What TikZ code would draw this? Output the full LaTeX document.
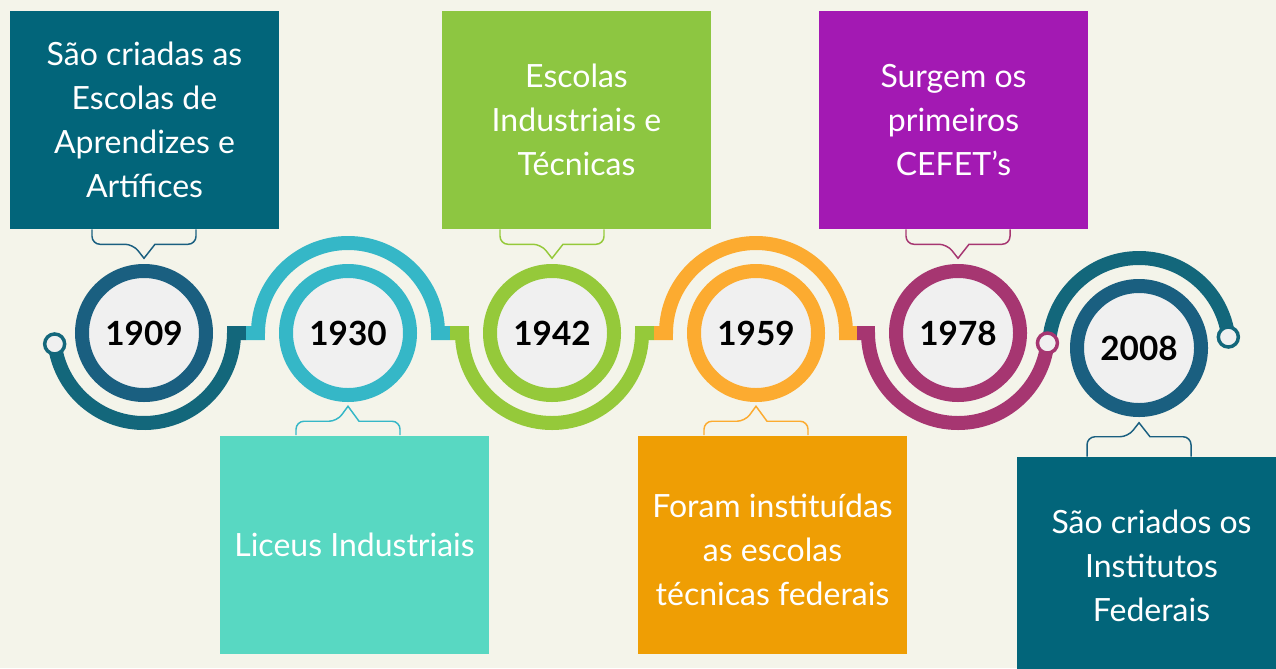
\documentclass[tikz,border=0pt]{standalone}
\usepackage{fontspec}
\setmainfont{Lato}
\usetikzlibrary{calc}

\definecolor{bgcream}{HTML}{F4F4EA}
\definecolor{diskgray}{HTML}{F0F0F0}
\definecolor{ring1909}{HTML}{1A5F80}
\definecolor{arc1909}{HTML}{13677B}
\definecolor{box1909}{HTML}{02657A}
\definecolor{ring1930}{HTML}{35B7C7}
\definecolor{box1930}{HTML}{58D8C2}
\definecolor{ring1942}{HTML}{95C93A}
\definecolor{box1942}{HTML}{8DC641}
\definecolor{ring1959}{HTML}{FCAB30}
\definecolor{box1959}{HTML}{EF9E04}
\definecolor{ring1978}{HTML}{A63671}
\definecolor{box1978}{HTML}{A319B3}
\definecolor{ring2008}{HTML}{1A5F80}
\definecolor{arc2008}{HTML}{13677B}
\definecolor{box2008}{HTML}{02657A}

\pgfdeclareradialshading{yeardisk}{\pgfpoint{-1bp}{1bp}}{%
  color(0bp)=(diskgray); color(39bp)=(diskgray); color(44.5bp)=(black!50); color(50bp)=(black!50)}

\tikzset{
  yearring/.style={circle, draw=#1, line width=10.5pt, minimum size=93pt, inner sep=0pt,
    shading=yeardisk, font=\bfseries\fontsize{25}{30}\selectfont},
  eventbox/.style={fill=#1, text=white, minimum width=201.75pt, minimum height=163.5pt,
    inner sep=0pt, align=center, font=\fontsize{24}{33}\selectfont},
  track/.style={draw=#1, line width=10.5pt},
  enddot/.style={circle, fill=diskgray, draw=#1, line width=2.6pt, minimum size=15pt, inner sep=0pt},
  callout/.style={draw=#1, line width=1.1pt, rounded corners=6pt}
}

\begin{document}
\begin{tikzpicture}[x=0.75pt, y=0.75pt]
	\fill[bgcream] (0,0) rectangle (1276,-668);
	\useasboundingbox (0,0) rectangle (1276,-668);

	% years
	\node[yearring=ring1909] (c1909) at (144,-333) {1909};
	\node[yearring=ring1930] (c1930) at (348,-333) {1930};
	\node[yearring=ring1942] (c1942) at (552,-333) {1942};
	\node[yearring=ring1959] (c1959) at (756,-333) {1959};
	\node[yearring=ring1978] (c1978) at (958,-333) {1978};
	\node[yearring=ring2008] (c2008) at (1139,-348) {2008};

	% events
	\node[eventbox=box1909] (b1909) at (144.5,-120) {São criadas as\\Escolas de\\Aprendizes e\\Artífices};
	\node[eventbox=box1930] (b1930) at (354.5,-544.5) {Liceus Industriais};
	\node[eventbox=box1942] (b1942) at (576.5,-120) {Escolas\\Industriais e\\Técnicas};
	\node[eventbox=box1959] (b1959) at (772.5,-544.5) {\rule{0pt}{26pt}Foram instituídas\\as escolas\\técnicas federais};
	\node[eventbox=box1978] (b1978) at (953.5,-120) {Surgem os\\primeiros\\CEFET’s};
	\node[eventbox=box2008] (b2008) at (1151.5,-566) {São criados os\\Institutos\\Federais};

	% track
	\coordinate (j1) at (246,-333);
	\coordinate (j2) at (450,-333);
	\coordinate (j3) at (654,-333);
	\coordinate (j4) at (857,-333);
	\draw[track=arc1909] ($(c1909)+(187:90)$) arc (187:360:90) -- (j1);
	\draw[track=ring1930] (j1) -- ($(c1930)+(-90,0)$) arc (180:0:90) -- (j2);
	\draw[track=ring1942] (j2) -- ($(c1942)+(-90,0)$) arc (180:360:90) -- (j3);
	\draw[track=ring1959] (j3) -- ($(c1959)+(-90,0)$) arc (180:0:90) -- (j4);
	\draw[track=arc2008] ($(c2008)+(182:90)$) arc (182:7:90);
	\draw[track=ring1978] (j4) -- ($(c1978)+(-90,0)$) arc (180:353.6:90);

	\node[enddot=arc1909] (d1909) at ($(c1909)+(187:90)$) {};
	\node[enddot=arc2008] (d2008) at ($(c2008)+(7:90)$) {};
	\node[enddot=ring1978] (d1978) at ($(c1978)+(353.6:90)$) {};

	% callouts
	\draw[callout=ring1909] ($(b1909.south -| c1909)+(-52,0)$) -- ++(0,-15) -- ++(41,0) [sharp corners]-- ++(11,-14) -- ++(11,14) [rounded corners=6pt]-- ++(41,0) -- ++(0,15);
	\draw[callout=ring1942] ($(b1942.south -| c1942)+(-52,0)$) -- ++(0,-15) -- ++(41,0) [sharp corners]-- ++(11,-14) -- ++(11,14) [rounded corners=6pt]-- ++(41,0) -- ++(0,15);
	\draw[callout=ring1978] ($(b1978.south -| c1978)+(-52,0)$) -- ++(0,-15) -- ++(41,0) [sharp corners]-- ++(11,-14) -- ++(11,14) [rounded corners=6pt]-- ++(41,0) -- ++(0,15);
	\draw[callout=ring1930] ($(b1930.north -| c1930)+(-52,0)$) -- ++(0,14) -- ++(41,0) [sharp corners]-- ++(11,15) -- ++(11,-15) [rounded corners=6pt]-- ++(41,0) -- ++(0,-14);
	\draw[callout=ring1959] ($(b1959.north -| c1959)+(-52,0)$) -- ++(0,14) -- ++(41,0) [sharp corners]-- ++(11,15) -- ++(11,-15) [rounded corners=6pt]-- ++(41,0) -- ++(0,-14);
	\draw[callout=ring2008] ($(b2008.north -| c2008)+(-52,0)$) -- ++(0,20) -- ++(41,0) [sharp corners]-- ++(11,14) -- ++(11,-14) [rounded corners=6pt]-- ++(41,0) -- ++(0,-20);
\end{tikzpicture}
\end{document}
